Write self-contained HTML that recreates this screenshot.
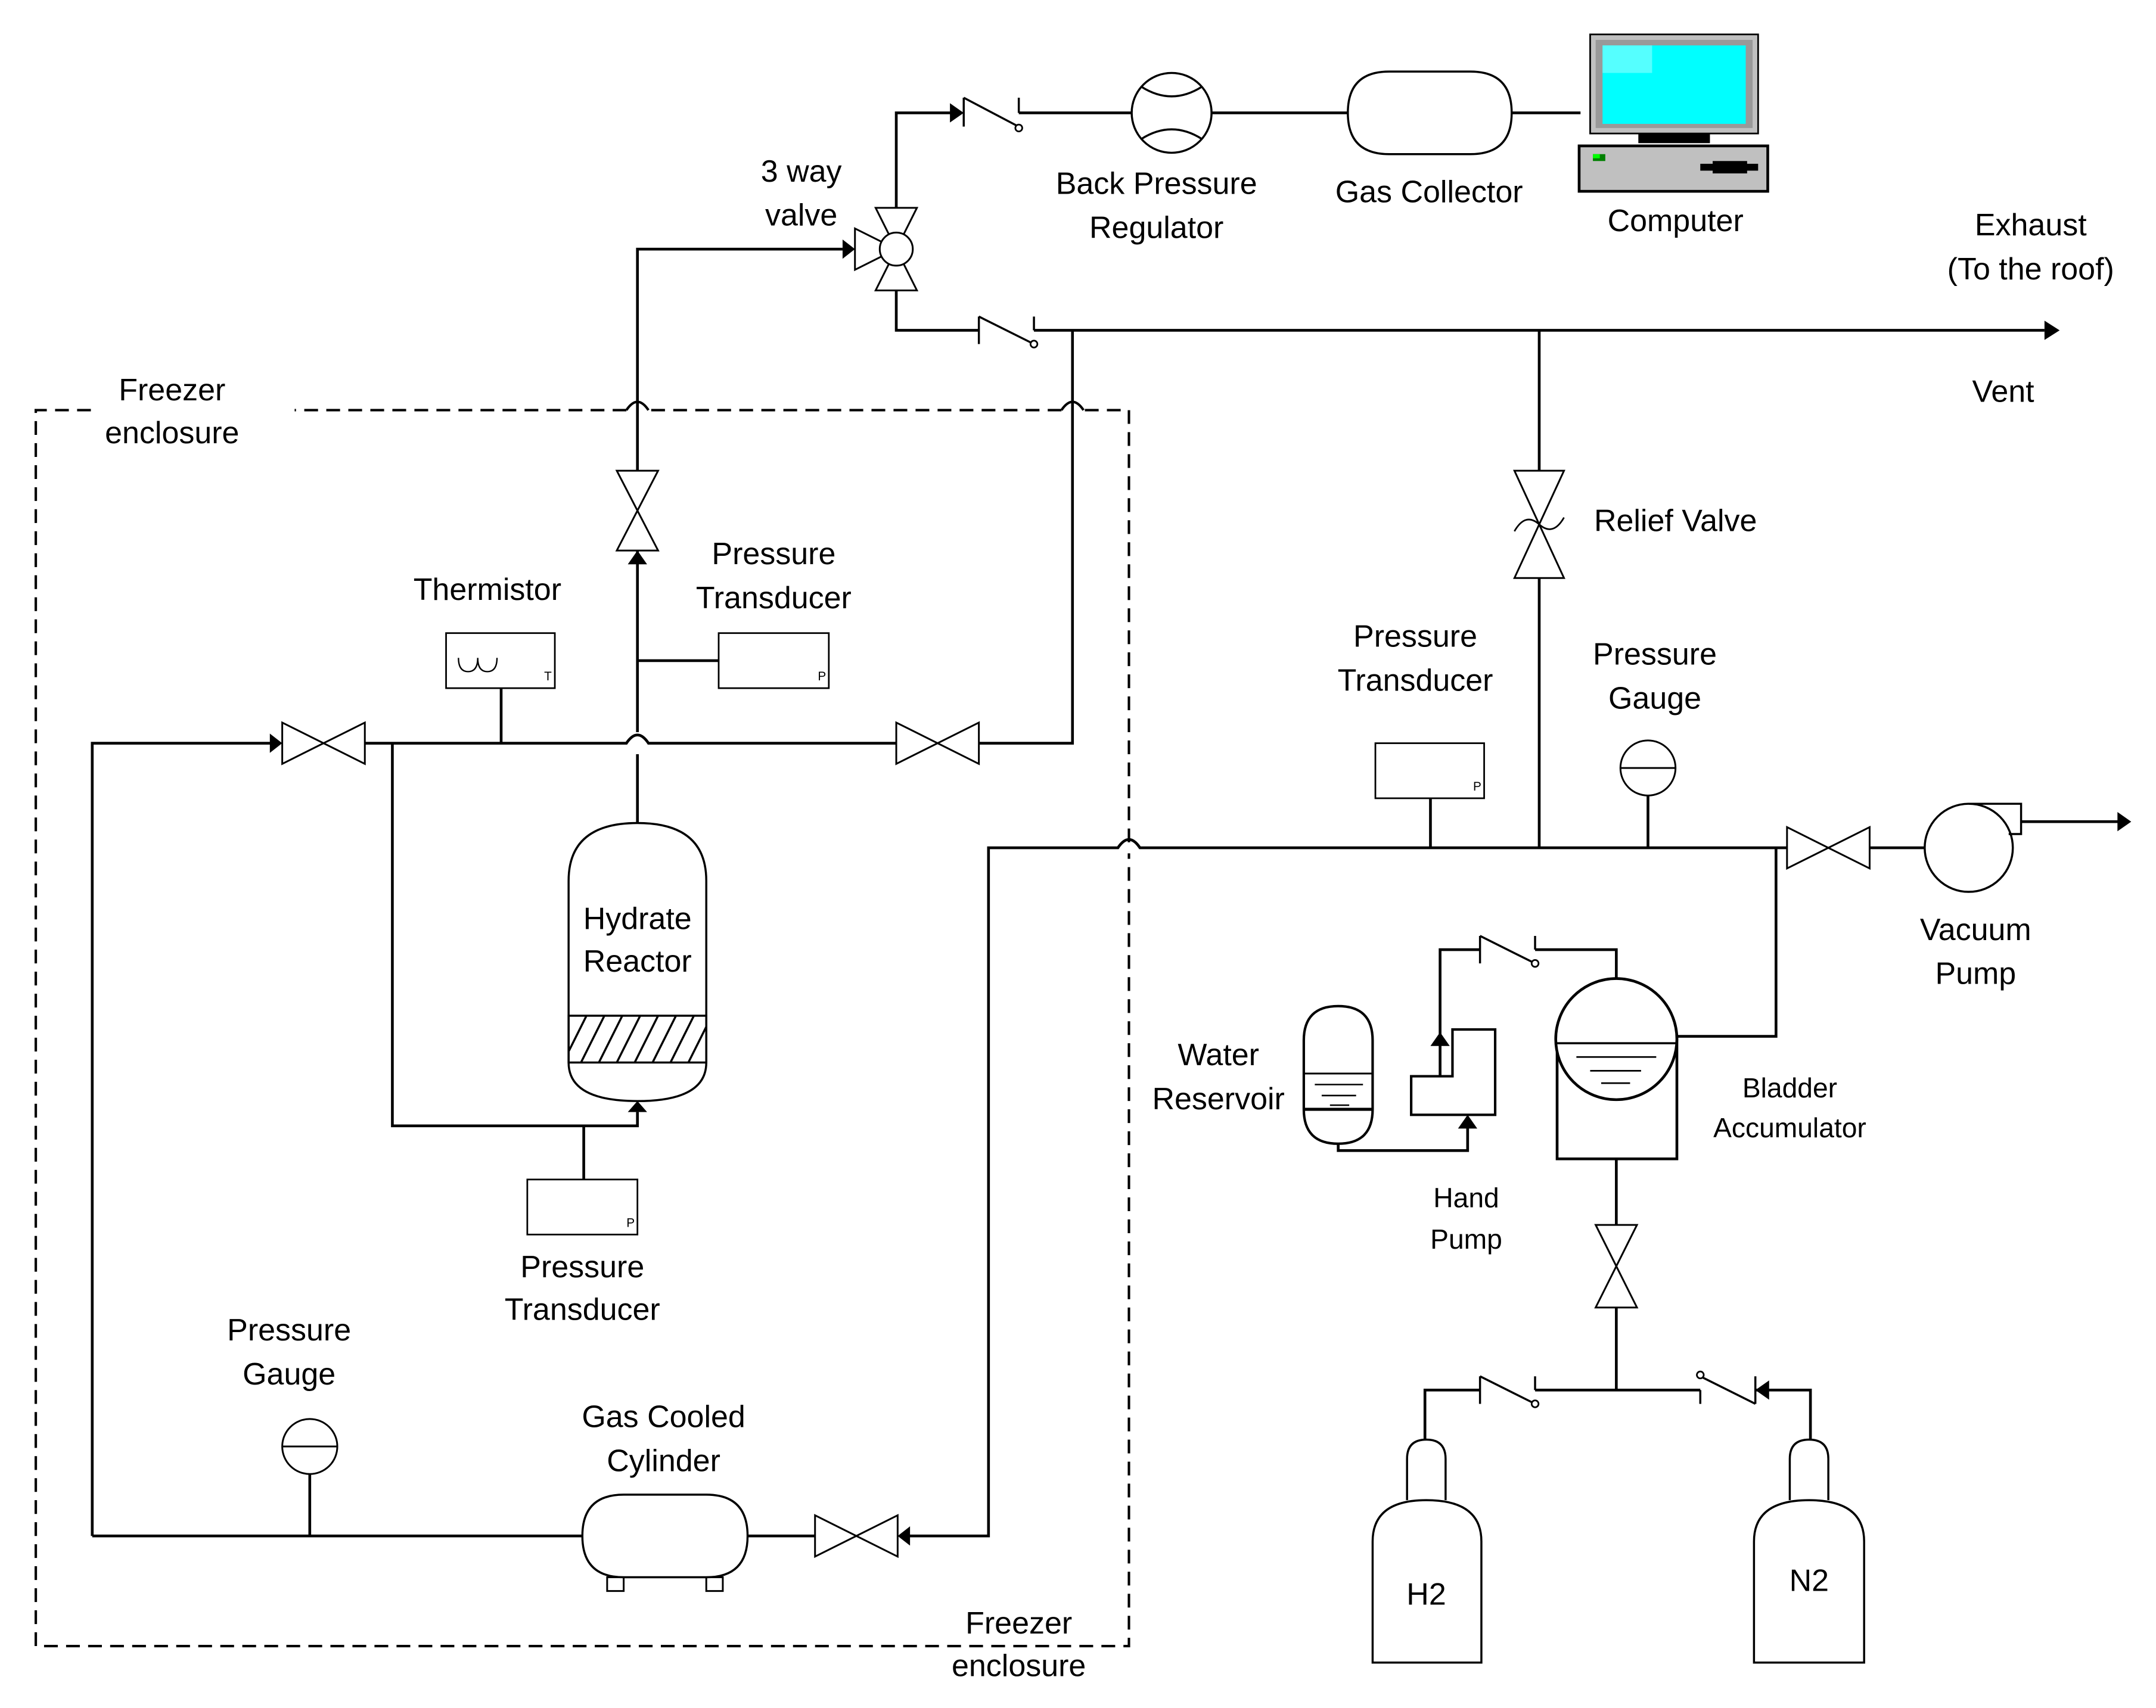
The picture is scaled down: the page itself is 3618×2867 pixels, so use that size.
<!DOCTYPE html>
<html><head><meta charset="utf-8"><style>
html,body{margin:0;padding:0;background:#fff;}
svg{display:block;}
text{font-family:"Liberation Sans",sans-serif;font-size:22.5px;fill:#000;text-anchor:middle;dominant-baseline:middle;}
.s{font-size:20px;}
.t{font-size:9px;}
</style></head><body>
<svg width="3618" height="2867" viewBox="0 0 1566 1241" preserveAspectRatio="none" xmlns="http://www.w3.org/2000/svg">
<defs>
<clipPath id="hc"><rect x="413" y="738" width="100" height="34"/></clipPath>
</defs>
<g fill="none" stroke="#000" stroke-width="2">
<g stroke-dasharray="10,6" stroke-width="1.8">
<path d="M66,298 L26,298 L26,1196 L820,1196 L820,620"/>
<path d="M820,612 L820,298 L787,298"/>
<path d="M771,298 L471,298"/>
<path d="M455,298 L214,298"/>
</g>
<path d="M455,298 Q463,286 471,298" stroke-width="1.8"/>
<path d="M771,298 Q779,286 787,298" stroke-width="1.8"/>

<path d="M651,151 L651,82 L694,82"/>
<path d="M740,82 L822,82"/>
<path d="M880,82 L979,82"/>
<path d="M1098,82 L1148,82"/>
<path d="M700,71 L700,92 M700,71 L738,91 M740,71 L740,82" stroke-width="1.5"/>
<circle cx="740" cy="93" r="2.5" stroke-width="1.2" fill="#fff"/>
<path d="M651,211 L651,240 L711,240"/>
<path d="M751,240 L1485,240"/>
<path d="M711,230 L711,250 M711,230 L749,249 M751,230 L751,240" stroke-width="1.5"/>
<circle cx="751" cy="250" r="2.5" stroke-width="1.2" fill="#fff"/>
<path d="M636,151 L666,151 L651,181 Z M636,211 L666,211 L651,181 Z M621,166 L621,196 L651,181 Z" stroke-width="1.3" fill="#fff"/>
<circle cx="651" cy="181" r="12" stroke-width="1.3" fill="#fff"/>
<circle cx="851" cy="82" r="29" stroke-width="1.5"/>
<path d="M829,63 Q851,77 873,63 M829,101 Q851,87 873,101" stroke-width="1.5"/>
<path d="M1009,52 L1068,52 Q1098,52 1098,82 Q1098,112 1068,112 L1009,112 Q979,112 979,82 Q979,52 1009,52 Z" stroke-width="1.5"/>

<path d="M463,342 L463,181 L612,181"/>
<path d="M448,342 L478,342 L448,400 L478,400 Z" stroke-width="1.3"/>
<path d="M463,400 L463,532 M463,548 L463,598"/>
<path d="M463,480 L522,480"/>
<rect x="522" y="460" width="80" height="40" stroke-width="1.2"/>
<path d="M67,1116 L67,540 L198,540"/>
<path d="M265,540 L455,540 Q463,528 471,540 L651,540"/>
<path d="M711,540 L779,540 L779,240"/>
<path d="M205,525 L205,555 L265,525 L265,555 Z" stroke-width="1.3"/>
<path d="M651,525 L651,555 L711,525 L711,555 Z" stroke-width="1.3"/>
<rect x="324" y="460" width="79" height="40" stroke-width="1.2"/>
<path d="M364,500 L364,540"/>
<path d="M333,478 Q333,488 340,488 Q347,488 347,478 Q347,488 354,488 Q361,488 361,478" stroke-width="1"/>
<path d="M285,540 L285,818 L463,818 L463,808"/>
<path d="M424,818 L424,857"/>
<rect x="383" y="857" width="80" height="40" stroke-width="1.2"/>
<path d="M413,640 Q413,598 463,598 Q513,598 513,640 L513,772 Q513,800 463,800 Q413,800 413,772 Z" stroke-width="1.5"/>
<rect x="413" y="738" width="100" height="34" stroke-width="1.5"/>
<g clip-path="url(#hc)" stroke-width="1.5">
<path d="M405,780 L430,730 M418,780 L443,730 M431,780 L456,730 M444,780 L469,730 M457,780 L482,730 M470,780 L495,730 M483,780 L508,730 M496,780 L521,730 M509,780 L534,730"/>
</g>
<path d="M67,1116 L423,1116"/>
<path d="M225,1071 L225,1116"/>
<circle cx="225" cy="1051" r="20" stroke-width="1.3"/>
<path d="M205,1051 L245,1051" stroke-width="1.3"/>
<path d="M453,1086 L513,1086 Q543,1086 543,1116 Q543,1146 513,1146 L453,1146 Q423,1146 423,1116 Q423,1086 453,1086 Z" stroke-width="1.5"/>
<rect x="441" y="1146" width="12" height="10" stroke-width="1.3"/>
<rect x="513" y="1146" width="12" height="10" stroke-width="1.3"/>
<path d="M543,1116 L592,1116"/>
<path d="M592,1101 L592,1131 L652,1101 L652,1131 Z" stroke-width="1.3"/>
<path d="M660,1116 L718,1116 L718,616 L812,616 Q820,604 828,616 L1298,616"/>
<path d="M1039,580 L1039,616"/>
<rect x="999" y="540" width="79" height="40" stroke-width="1.2"/>
<circle cx="1197" cy="558" r="20" stroke-width="1.3"/>
<path d="M1177,558 L1217,558" stroke-width="1.3"/>
<path d="M1197,578 L1197,616"/>
<path d="M1118,240 L1118,342 M1118,420 L1118,616"/>
<path d="M1100,342 L1136,342 L1100,420 L1136,420 Z" stroke-width="1.3"/>
<path d="M1100,386 Q1108,372 1118,381 Q1128,390 1136,376" stroke-width="1.2"/>
<path d="M1298,601 L1298,631 L1358,601 L1358,631 Z" stroke-width="1.3"/>
<path d="M1358,616 L1398,616"/>
<circle cx="1430" cy="616" r="32" stroke-width="1.5"/>
<path d="M1430,584 L1468,584 L1468,606 L1459,606" stroke-width="1.5"/>
<path d="M1468,597 L1540,597"/>
<path d="M1290,616 L1290,753 L1218,753"/>
<rect x="1131" y="753" width="87" height="89" stroke-width="2"/>
<ellipse cx="1174" cy="755" rx="44" ry="44" stroke-width="2" fill="#fff"/>
<path d="M1131,758 L1218,758" stroke-width="1.5"/>
<path d="M1145,768 L1203,768 M1155,778 L1192,778 M1163,787 L1184,787" stroke-width="1.2"/>
<path d="M1174,842 L1174,890 M1174,950 L1174,1010"/>
<path d="M1159,890 L1189,890 L1159,950 L1189,950 Z" stroke-width="1.3"/>
<path d="M1035,1046 L1035,1010 L1075,1010 M1115,1010 L1235,1010 M1275,1010 L1315,1010 L1315,1046"/>
<path d="M1075,1000 L1075,1020 M1075,1000 L1113,1019 M1115,1000 L1115,1010" stroke-width="1.5"/>
<circle cx="1115" cy="1020" r="2.5" stroke-width="1.2" fill="#fff"/>
<path d="M1275,1000 L1275,1020 M1275,1020 L1237,1001 M1235,1010 L1235,1020" stroke-width="1.5"/>
<circle cx="1235" cy="999" r="2.5" stroke-width="1.2" fill="#fff"/>
<path d="M997,1208 L997,1120 Q997,1090 1036,1090 Q1076,1090 1076,1120 L1076,1208 Z" stroke-width="1.5"/>
<path d="M1022,1090 L1022,1060 Q1022,1046 1036,1046 Q1050,1046 1050,1060 L1050,1090" stroke-width="1.5"/>
<path d="M1274,1208 L1274,1120 Q1274,1090 1314,1090 Q1354,1090 1354,1120 L1354,1208 Z" stroke-width="1.5"/>
<path d="M1300,1090 L1300,1060 Q1300,1046 1314,1046 Q1328,1046 1328,1060 L1328,1090" stroke-width="1.5"/>
<path d="M1174,711 L1174,690 L1115,690 M1075,690 L1046,690 L1046,782"/>
<path d="M1075,680 L1075,700 M1075,680 L1113,699 M1115,680 L1115,690" stroke-width="1.5"/>
<circle cx="1115" cy="700" r="2.5" stroke-width="1.2" fill="#fff"/>
<path d="M1025,782 L1055,782 L1055,748 L1086,748 L1086,810 L1025,810 Z" stroke-width="1.8"/>
<path d="M972,831 L972,836 L1066,836 L1066,818"/>
<path d="M947,756 Q947,731 972,731 Q997,731 997,756 L997,806 Q997,831 972,831 Q947,831 947,806 Z" stroke-width="1.8"/>
<path d="M947,780 L997,780" stroke-width="1.3"/>
<path d="M947,806 L997,806" stroke-width="2.2"/>
<path d="M955,788 L990,788 M960,796 L985,796 M966,803 L980,803" stroke-width="1.1"/>
</g>
<g fill="#000">
<path d="M690,75 L700,82 L690,89 Z"/>
<path d="M612,174 L621,181 L612,188 Z"/>
<path d="M1485,233 L1496,240 L1485,247 Z"/>
<path d="M1538,590 L1548,597 L1538,604 Z"/>
<path d="M456,410 L463,400 L470,410 Z"/>
<path d="M456,808 L463,800 L470,808 Z"/>
<path d="M196,533 L205,540 L196,547 Z"/>
<path d="M661,1109 L652,1116 L661,1123 Z"/>
<path d="M1039,760 L1046,750 L1053,760 Z"/>
<path d="M1059,820 L1066,810 L1073,820 Z"/>
<path d="M1285,1003 L1275,1010 L1285,1017 Z"/>
</g>
<rect x="1155" y="25" width="122" height="72" fill="#c0c0c0" stroke="#000" stroke-width="1.2"/>
<rect x="1159" y="29" width="114" height="64" fill="#999"/>
<rect x="1164" y="33" width="104" height="57" fill="#00ffff"/>
<rect x="1164" y="33" width="36" height="20" fill="#aaffff" opacity="0.5"/>
<rect x="1190" y="97" width="52" height="7" fill="#000"/>
<rect x="1147" y="106" width="137" height="33" fill="#c0c0c0" stroke="#000" stroke-width="2"/>
<rect x="1157" y="112" width="9" height="5" fill="#008000"/>
<rect x="1157" y="112" width="5" height="3" fill="#00ff00"/>
<rect x="1235" y="119" width="42" height="5" fill="#000"/>
<rect x="1244" y="117" width="25" height="9" fill="#000"/>
<text class="t" x="597" y="492">P</text>
<text class="t" x="458" y="889">P</text>
<text class="t" x="1073" y="572">P</text>
<text class="t" x="398" y="492">T</text>
<text x="582" y="126">3 way</text><text x="582" y="158">valve</text>
<text x="840" y="135">Back Pressure</text><text x="840" y="167">Regulator</text>
<text x="1038" y="141">Gas Collector</text>
<text x="1217" y="162">Computer</text>
<text x="1475" y="165">Exhaust</text><text x="1475" y="197">(To the roof)</text>
<text x="1455" y="286">Vent</text>
<text x="125" y="285">Freezer</text><text x="125" y="316">enclosure</text>
<text x="562" y="404">Pressure</text><text x="562" y="436">Transducer</text>
<text x="354" y="430">Thermistor</text>
<text x="463" y="669">Hydrate</text><text x="463" y="700">Reactor</text>
<text x="423" y="922">Pressure</text><text x="423" y="953">Transducer</text>
<text x="210" y="968">Pressure</text><text x="210" y="1000">Gauge</text>
<text x="482" y="1031">Gas Cooled</text><text x="482" y="1063">Cylinder</text>
<text x="740" y="1181">Freezer</text><text x="740" y="1212">enclosure</text>
<text x="1217" y="380">Relief Valve</text>
<text x="1028" y="464">Pressure</text><text x="1028" y="496">Transducer</text>
<text x="1202" y="477">Pressure</text><text x="1202" y="509">Gauge</text>
<text x="1435" y="677">Vacuum</text><text x="1435" y="709">Pump</text>
<text x="885" y="768">Water</text><text x="885" y="800">Reservoir</text>
<text class="s" x="1065" y="872">Hand</text><text class="s" x="1065" y="902">Pump</text>
<text class="s" x="1300" y="792">Bladder</text><text class="s" x="1300" y="821">Accumulator</text>
<text x="1036" y="1160">H2</text>
<text x="1314" y="1150">N2</text>
</svg>
</body></html>
